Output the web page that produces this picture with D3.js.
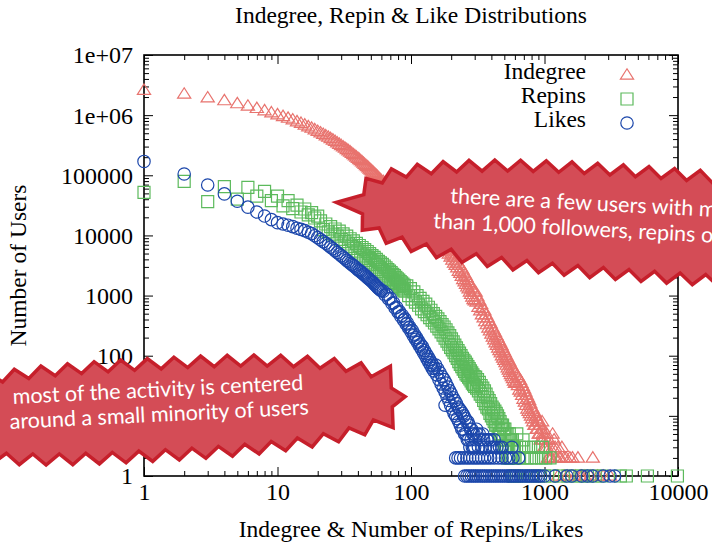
<!DOCTYPE html>
<html>
<head>
<meta charset="utf-8">
<script src="https://cdn.jsdelivr.net/npm/d3@7"></script>
<style>
  body { margin: 0; background: #fff; }
  svg { display: block; }
</style>
</head>
<body>
<svg id="chart" width="712" height="544"></svg>
<script>
// ---- data -------------------------------------------------------------
const seriesNames = ["Indegree", "Repins", "Likes"];
const xTicks = [1, 10, 100, 1000, 10000];
const xTickLabels = ["1", "10", "100", "1000", "10000"];
const yTicks = [1, 10, 100, 1000, 10000, 100000, 1000000, 10000000];
const yTickLabels = ["1", "10", "100", "1000", "10000", "100000", "1e+06", "1e+07"];

// Counts of users for consecutive values: each run is {start, step, counts}.
// Indegree
const indegreeA = [2600000,2250000,1950000,1750000,1560000,1420000,1300000,1190000,1100000,1020000,
  955000,895000,840000,780000,735000,690000,645000,610000,575000,540000,
  510000,482000,456000,432000,410000,388000,368000,348000,330000,314000,
  298000,284000,270000,257000,245000,233000,222000,212000,202000,193000,
  184000,176000,168000,160000,153000,146000,140000,134000,128000,123000,
  118000,113000,108000,104000,100000,96000,92000,88000,85000,82000];            // 1..60
const indegreeB = [79000,76500,71000,67500,62000,59500,55000,53000,49500,48000,
  45000,43000,40500,39000,37000,35000,33500,31500,30500,29500,
  28000,26500,25500,24000,23500,22300,21500,20500,19600,19000,
  18000,17300,16800,16000,15500,15000,14300,13900,13300,12900,
  12400,11900,11600,11000,10600];                                               // 62..150 by 2
const indegreeC = [10900,9500,9400,8200,8600,7300,7900,6600,7200,6000,
  6700,5500,6000,4900,5600,4400,5100,3900,4600,3500,
  4300,3200,3800,2900,3500,2550,3200,2350,2900,2100,
  2700,1850,2400,1700,2200,1550,2000,1400,1800,1300,
  1650,1150,1500,1050,1350,950,1250,860,1150,820];                              // 153..300 by 3
const indegreeD = [1150,780,960,640,820,560,720,480,610,430,
  560,370,480,330,430,290,380,260,340,230,
  300,205,270,185,245,165,220,150,200,135,
  180,122,165,112,150,100,135,92,122,84,
  112,77,102,70,94,63,86,58,80,53,
  73,49,68,45,62,42,58,38,54,35];                                               // 305..600 by 5
const indegreeE = [52,36,47,32,43,27,39,25,35,22,
  31,19,28,17,25,15,22,13,20,12,
  18,11,16,10,14,9,13,8,12,7,
  11,7,10,6,9,6,8,5,8,5,
  7,4,6,4,8,5,4,6,3,5];                                                         // 608..1000 by 8
const indegreeTail = [[1010,3],[1030,4],[1040,5],[1040,3],[1060,2],[1075,4],[1075,2],[1090,3],[1110,2],[1130,2],
  [1150,5],[1150,3],[1180,4],[1200,2],[1200,3],[1230,2],[1260,3],[1260,1],[1290,2],[1320,2],
  [1350,3],[1400,2],[1400,1],[1450,2],[1480,1],[1550,2],[1620,2],[1700,1],[1780,2],[1850,1],
  [1900,1],[2000,1],[2200,1],[2300,2],[2500,1],[2750,1],[3100,1]];

// Repins
const repinsA = [52000,79000,36600,65000,40000,63000,45000,54000,38000,45000,
  31000,38000,28000,32000,24500,27500,22000,24000,19500,21000];                 // 1..20
const repinsB = [17500,12500,15500,11500,14000,10500,12800,9700,11800,8600,
  10600,7900,9700,7200,8800,6600,8100,6100,7400,5500,
  6800,5100,6300,4700,5800,4400,5400,4100,5000,3800,
  4600,3500,4300,3300,4000,3100,3700,2900,3500,2700,
  3300,2500,3100,2350,2900,2200,2700,2100,2550,1950,
  2400,1850,2250,1750,2150,1650,2000,1580,1900,1500,
  1800,1420,1700,1350,1620,1290,1550,1230,1480,1180];                           // 21..90
const repinsC = [1450,1000,1300,870,1150,780,1000,690,900,600,
  800,540,720,480,640,430,570,390,500,350,
  450,310,410,280,370,250,330,220,300,195,
  270,175,240,155,215,138,190,125,170,112,
  150,100,135,90,122,80,110,72,100,66,
  90,60,84,55,78,50,72,47,66,44,
  61,41,56,38,52,35,48,33,45,31];                                               // 93..300 by 3
const repinsD = [44,29,40,26,36,23,32,21,29,18,
  26,16,23,14,20,13,18,11,16,10,
  14,9,13,8,12,7,11,7,10,6,
  9,5,8,5,7,4,7,4,6,3,
  6,3,5,3,5,2,4,3,5,2,
  4,2,3,2,4,1,3,2,3,1];                                                         // 305..600 by 5
const repinsTail = [[620,5],[690,4],[650,3],[700,3],[760,3],[830,3],[900,3],[970,3],
  [640,2],[690,2],[740,2],[800,2],[870,2],[950,2],[1020,2],[1100,2],
  [620,1],[700,1],[800,1],[900,1],[1000,1],[1150,1],[1300,1],[1500,1],[1700,1],[1900,1],
  [2100,1],[2400,1],[2700,1],[3700,1],[4100,1],[5900,1],[9900,1]];

// Likes
const likesA = [170000,105000,69000,49000,37000,29500,24500,21000,18300,16300,
  15500,14800,14000,13200,12600,12000,11300,10700,9900,9200,
  8500,7900,7400,6900,6400,6000,5600,5200,4900,4600,
  4350,4100,3850,3650,3450,3300,3150,3000,2850,2700,
  2600,2500,2380,2280,2190,2100,2010,1930,1850,1780,
  1710,1640,1570,1500,1440,1380,1330,1290,1240,1200];                            // 1..60
const likesB = [1180,1020,1050,880,900,740,760,620,640,530,
  540,450,470,390,410,335,350,290,300,250,
  265,215,228,188,200,165,175,145,155,128,
  140,112,122,100,108,88,97,78,86,70,
  77,62,69,56,62];                                                              // 62..150 by 2
const likesC = [70,48,60,40,52,34,45,29,40,25,
  35,21,30,18,26,15,23,13,20,11,
  18,10,16,9,14,8,13,7,12,6,
  11,6,10,5,9,5,8,4,8,4,
  7,3,6,4,6,3,5,3,5,3];                                                         // 153..300 by 3
const likesTail = [[180,15],[305,4],[310,6],[312,5],[320,3],[325,5],[330,4],[340,3],[345,5],[350,4],
  [362,3],[370,4],[375,4],[390,3],[395,4],[405,3],[420,3],[420,4],[440,3],[460,3],[480,3],[570,3],
  [216,2],[225,2],[235,2],[248,2],[262,2],[275,2],[290,2],[305,2],[320,2],[338,2],
  [355,2],[375,2],[395,2],[420,2],[450,2],[480,2],[510,2],[540,2],[580,2],[640,2],
  [252,1],[262,1],[272,1],[283,1],[294,1],[305,1],[317,1],[330,1],[343,1],[356,1],
  [370,1],[385,1],[400,1],[416,1],[432,1],[449,1],[467,1],[485,1],[504,1],[524,1],
  [545,1],[566,1],[588,1],[611,1],[635,1],[660,1],[686,1],[713,1],[741,1],[770,1],
  [800,1],[832,1],[865,1],[900,1],[935,1],[1000,1],[1200,1],[1470,1],[1600,1],[1900,1],
  [2100,1],[2300,1],[2750,1],[3100,1],[3350,1]];

const run = (start, step, counts) => counts.map((c, i) => [start + i * step, c]);

const indegree = [...run(1, 1, indegreeA), ...run(62, 2, indegreeB), ...run(153, 3, indegreeC),
  ...run(305, 5, indegreeD), ...run(608, 8, indegreeE), ...indegreeTail];
const repins = [...run(1, 1, repinsA), ...run(21, 1, repinsB), ...run(93, 3, repinsC),
  ...run(305, 5, repinsD), ...repinsTail];
const likes = [...run(1, 1, likesA), ...run(62, 2, likesB), ...run(153, 3, likesC), ...likesTail];

// ---- layout -------------------------------------------------------------
const serif = "'Liberation Serif', 'Times New Roman', serif";
const sans = "Lato, 'Open Sans', sans-serif";
const colors = { Indegree: "#e8736e", Repins: "#5cba5c", Likes: "#1c47ab" };
const plot = { left: 144, right: 678, top: 55, bottom: 476 };

const svg = d3.select("#chart");
const x = d3.scaleLog().domain([1, 10000]).range([plot.left, plot.right]);
const y = d3.scaleLog().domain([1, 1e7]).range([plot.bottom, plot.top]);

// minor tick positions: 2..9 within every decade
const minorOf = (majors) => majors.slice(0, -1).flatMap(d => d3.range(2, 10).map(k => k * d));
const xMinor = minorOf(xTicks);
const yMinor = minorOf(yTicks);

function styleAxis(g) {
  g.select(".domain").remove();
  g.selectAll(".tick line").attr("stroke", "#000").attr("stroke-width", 1);
  g.selectAll("text").attr("font-family", serif).attr("font-size", 24).attr("fill", "#000");
}

// bottom axis with labels, top mirror
svg.append("g").attr("transform", `translate(0,${plot.bottom})`)
  .call(d3.axisBottom(x).tickValues(xTicks).tickFormat((d, i) => xTickLabels[i]).tickSizeInner(-9).tickSizeOuter(0))
  .call(styleAxis)
  .call(g => g.selectAll("text").attr("y", 24).attr("dy", null));
svg.append("g").attr("transform", `translate(0,${plot.bottom})`)
  .call(d3.axisBottom(x).tickValues(xMinor).tickFormat("").tickSizeInner(-5).tickSizeOuter(0)).call(styleAxis);
svg.append("g").attr("transform", `translate(0,${plot.top})`)
  .call(d3.axisTop(x).tickValues(xTicks).tickFormat("").tickSizeInner(-9).tickSizeOuter(0)).call(styleAxis);
svg.append("g").attr("transform", `translate(0,${plot.top})`)
  .call(d3.axisTop(x).tickValues(xMinor).tickFormat("").tickSizeInner(-5).tickSizeOuter(0)).call(styleAxis);

// left axis with labels, right mirror
svg.append("g").attr("transform", `translate(${plot.left},0)`)
  .call(d3.axisLeft(y).tickValues(yTicks).tickFormat((d, i) => yTickLabels[i]).tickSizeInner(-9).tickSizeOuter(0))
  .call(styleAxis)
  .call(g => g.selectAll("text").attr("x", -11).attr("dy", "0.33em"));
svg.append("g").attr("transform", `translate(${plot.left},0)`)
  .call(d3.axisLeft(y).tickValues(yMinor).tickFormat("").tickSizeInner(-5).tickSizeOuter(0)).call(styleAxis);
svg.append("g").attr("transform", `translate(${plot.right},0)`)
  .call(d3.axisRight(y).tickValues(yTicks).tickFormat("").tickSizeInner(-9).tickSizeOuter(0)).call(styleAxis);
svg.append("g").attr("transform", `translate(${plot.right},0)`)
  .call(d3.axisRight(y).tickValues(yMinor).tickFormat("").tickSizeInner(-5).tickSizeOuter(0)).call(styleAxis);

// frame
svg.append("rect")
  .attr("x", plot.left).attr("y", plot.top)
  .attr("width", plot.right - plot.left).attr("height", plot.bottom - plot.top)
  .attr("fill", "none").attr("stroke", "#000").attr("stroke-width", 1.6);

// titles
svg.append("text").attr("x", (plot.left + plot.right) / 2).attr("y", 23)
  .attr("text-anchor", "middle").attr("font-family", serif).attr("font-size", 23.5)
  .text("Indegree, Repin & Like Distributions");
svg.append("text").attr("x", (plot.left + plot.right) / 2).attr("y", 537)
  .attr("text-anchor", "middle").attr("font-family", serif).attr("font-size", 23.5)
  .text("Indegree & Number of Repins/Likes");
svg.append("text")
  .attr("transform", `translate(26,${(plot.top + plot.bottom) / 2}) rotate(-90)`)
  .attr("text-anchor", "middle").attr("font-family", serif).attr("font-size", 23.5)
  .text("Number of Users");

// ---- markers ------------------------------------------------------------
const shapes = {
  Indegree: "M0,-6.2L6.6,4.2L-6.6,4.2Z",
  Repins: "M-6,-6H6V6H-6Z",
  Likes: d3.symbol(d3.symbolCircle, Math.PI * 6.2 * 6.2)()
};
const seriesData = { Indegree: indegree, Repins: repins, Likes: likes };

seriesNames.forEach(name => {
  svg.append("g").attr("class", "series")
    .selectAll("path").data(seriesData[name]).join("path")
    .attr("d", shapes[name])
    .attr("transform", d => `translate(${x(d[0])},${y(d[1])})`)
    .attr("fill", "none").attr("stroke", colors[name]).attr("stroke-width", 1.2);
});

// legend
const legend = svg.append("g");
seriesNames.forEach((name, i) => {
  const cy = 75 + i * 24;
  legend.append("text").attr("x", 586).attr("y", cy + 4)
    .attr("text-anchor", "end").attr("font-family", serif).attr("font-size", 23.5).text(name);
  legend.append("path").attr("d", shapes[name])
    .attr("transform", `translate(627,${cy})`)
    .attr("fill", "none").attr("stroke", colors[name]).attr("stroke-width", 1.2);
});

// ---- jagged callouts -------------------------------------------------------
function burstPath(o) {
  const N = 4000, pts = [];
  for (let i = 0; i <= N; i++) {
    const t = i / N * 2 * Math.PI, c = Math.cos(t), s = Math.sin(t);
    pts.push([o.rx * Math.sign(c) * Math.pow(Math.abs(c), 2 / o.exp),
              o.ry * Math.sign(s) * Math.pow(Math.abs(s), 2 / o.exp)]);
  }
  const cum = [0];
  for (let i = 1; i <= N; i++) cum.push(cum[i - 1] + Math.hypot(pts[i][0] - pts[i - 1][0], pts[i][1] - pts[i - 1][1]));
  const total = cum[N];
  let n = Math.round(total / (o.period / 2)); if (n % 2) n++;
  const verts = [];
  let j = 0;
  for (let k = 0; k < n; k++) {
    const L = k * total / n;
    while (cum[j + 1] < L) j++;
    const p = pts[j], q = pts[j + 1];
    const f = (L - cum[j]) / ((cum[j + 1] - cum[j]) || 1);
    const px = p[0] + (q[0] - p[0]) * f, py = p[1] + (q[1] - p[1]) * f;
    const tl = Math.hypot(q[0] - p[0], q[1] - p[1]) || 1;
    let nx = (q[1] - p[1]) / tl, ny = -(q[0] - p[0]) / tl;
    if (nx * px + ny * py < 0) { nx = -nx; ny = -ny; }
    const off = (k % 2 === 0 ? 1 : -1) * o.amp / 2;
    verts.push({ x: px + nx * off, y: py + ny * off, ang: Math.atan2(py / o.ry, px / o.rx), nx, ny, outer: k % 2 === 0 });
  }
  (o.spikes || []).forEach(sp => {
    let best = null, bd = 1e9;
    verts.forEach(v => {
      if (!v.outer) return;
      const d = Math.abs(Math.atan2(Math.sin(v.ang - sp.angle), Math.cos(v.ang - sp.angle)));
      if (d < bd) { bd = d; best = v; }
    });
    best.x += best.nx * sp.len; best.y += best.ny * sp.len;
  });
  const r = o.rot * Math.PI / 180, cr = Math.cos(r), sr = Math.sin(r);
  return "M" + verts.map(v => [o.cx + v.x * cr - v.y * sr, o.cy + v.x * sr + v.y * cr].map(d => d.toFixed(1)).join(",")).join("L") + "Z";
}

const callouts = [
  { cx: 645, cy: 224, rx: 290, ry: 52, rot: 4, exp: 2.6, period: 26, amp: 11,
    spikes: [{ angle: Math.PI, len: 14 }],
    lines: [{ x: 450, y: 203, text: "there are a few users with more" },
            { x: 433, y: 228, text: "than 1,000 followers, repins or likes" }], tilt: 3 },
  { cx: 150, cy: 410, rx: 250, ry: 46, rot: -3, exp: 2.6, period: 27, amp: 11,
    spikes: [{ angle: 0.25, len: 5 }, { angle: -0.4, len: 6 }],
    lines: [{ x: 13, y: 404, text: "most of the activity is centered" },
            { x: 10, y: 429, text: "around a small minority of users" }], tilt: -2.8 }
];

callouts.forEach(c => {
  const g = svg.append("g");
  g.append("path").attr("d", burstPath(c))
    .attr("fill", "#d44c56").attr("stroke", "#c61f2b").attr("stroke-width", 3.5)
    .attr("stroke-linejoin", "miter");
  c.lines.forEach(l => {
    g.append("text").attr("transform", `translate(${l.x},${l.y}) rotate(${c.tilt})`)
      .attr("font-family", sans).attr("font-size", 21.5).attr("fill", "#fff")
      .text(l.text);
  });
});
</script>
</body>
</html>
